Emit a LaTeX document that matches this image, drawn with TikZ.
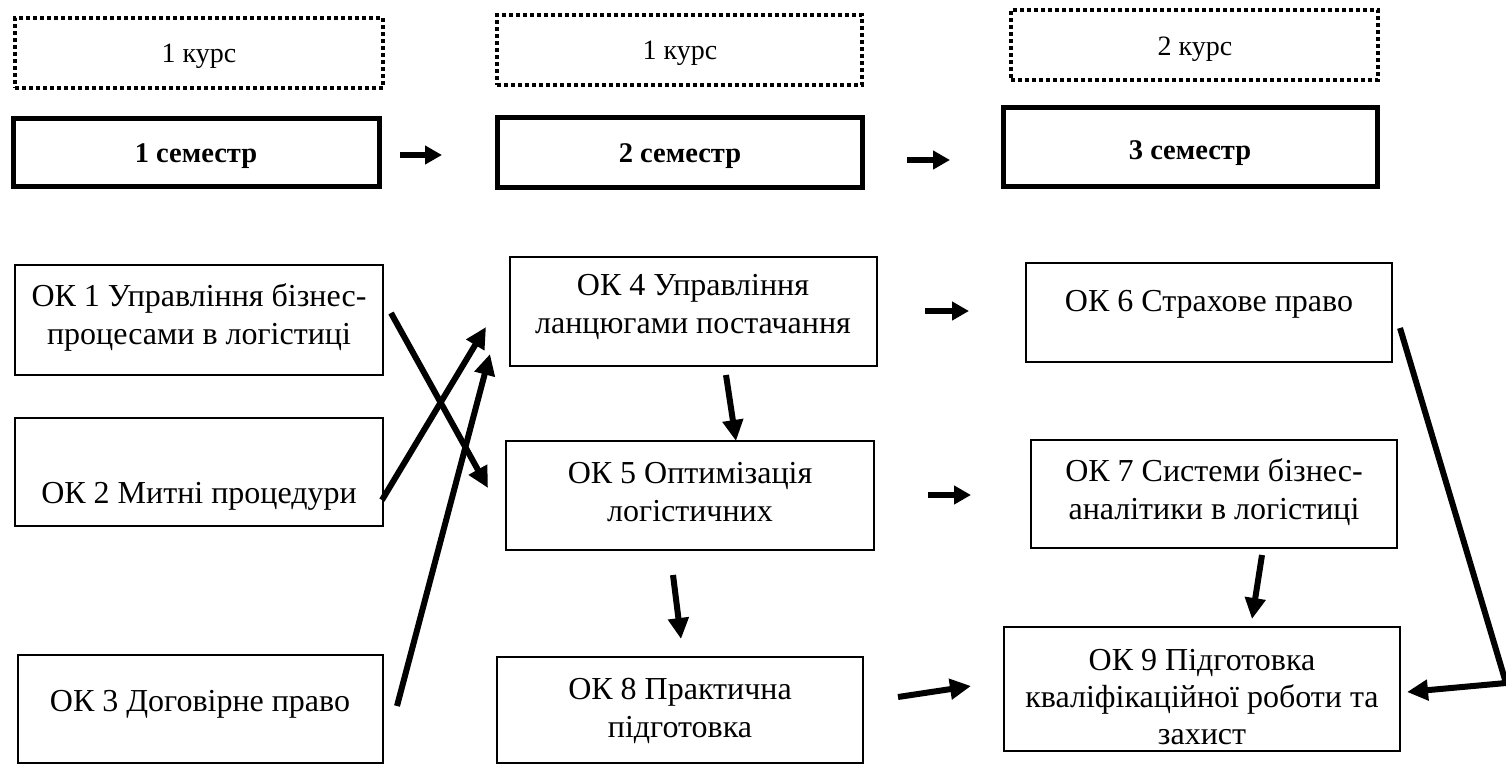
\documentclass[tikz,border=0pt]{standalone}
\usepackage{fontspec}
\setmainfont{Liberation Serif}
\usetikzlibrary{arrows.meta}
\begin{document}
\begin{tikzpicture}[x=1pt,y=-1pt,
  txt/.style={font=\fontsize{32}{38}\selectfont, align=center, inner sep=0pt},
  ktxt/.style={font=\fontsize{28}{38}\selectfont, inner sep=0pt},
  stxt/.style={font=\fontsize{28.5}{38}\selectfont\bfseries, inner sep=0pt},
  thinbox/.style={draw, line width=2pt, inner sep=0pt},
  thickbox/.style={draw, line width=5pt, inner sep=0pt},
  dotbox/.style={draw, line width=3.5pt, dash pattern=on 4pt off 3pt},
  arr/.style={line width=6pt, -{Triangle[length=21pt,width=20pt]}},
  sarr/.style={line width=6pt, -{Triangle[length=17pt,width=18pt]}}]
\useasboundingbox (0,0) rectangle (1506,763);
% course boxes
\node[dotbox, minimum width=368pt, minimum height=70pt] (d1) at (199,53) {};
\node[dotbox, minimum width=365pt, minimum height=70pt] (d2) at (679.5,50) {};
\node[dotbox, minimum width=367pt, minimum height=70pt] (d3) at (1194.5,45) {};
\node[ktxt] at (199,56) {1 курс};
\node[ktxt] at (680,53) {1 курс};
\node[ktxt] at (1195,49) {2 курс};
% semester boxes
\node[thickbox, minimum width=366pt, minimum height=68pt] (s1) at (196,152) {};
\node[thickbox, minimum width=365pt, minimum height=70pt] (s2) at (680,152) {};
\node[thickbox, minimum width=374pt, minimum height=79pt] (s3) at (1190,147) {};
\node[stxt] at (196,156) {1 семестр};
\node[stxt] at (680,156) {2 семестр};
\node[stxt] at (1190,153) {3 семестр};
% course units
\node[thinbox, minimum width=368pt, minimum height=110pt] (ok1) at (199,320) {};
\node[thinbox, minimum width=367pt, minimum height=109pt] (ok4) at (693.5,311.5) {};
\node[thinbox, minimum width=366pt, minimum height=99pt] (ok6) at (1209,312.5) {};
\node[thinbox, minimum width=368pt, minimum height=108pt] (ok2) at (199,472) {};
\node[thinbox, minimum width=368pt, minimum height=109pt] (ok5) at (690,495.5) {};
\node[thinbox, minimum width=366pt, minimum height=108pt] (ok7) at (1214,494) {};
\node[thinbox, minimum width=365pt, minimum height=108pt] (ok3) at (200.5,709) {};
\node[thinbox, minimum width=366pt, minimum height=106pt] (ok8) at (680,710) {};
\node[thinbox, minimum width=396pt, minimum height=124pt] (ok9) at (1202,689) {};
\node[txt] at (199,317) {ОК 1 Управління бізнес-\\процесами в логістиці};
\node[txt] at (693,307) {ОК 4 Управління\\ланцюгами постачання};
\node[txt] at (1209,304) {ОК 6 Страхове право};
\node[txt] at (199,496) {ОК 2 Митні процедури};
\node[txt] at (690,492) {ОК 5 Оптимізація\\логістичних};
\node[txt] at (1214,492) {ОК 7 Системи бізнес-\\аналітики в логістиці};
\node[txt] at (200,704) {ОК 3 Договірне право};
\node[txt] at (680,711) {ОК 8 Практична\\підготовка};
\node[txt, font=\fontsize{32}{37}\selectfont] at (1202,697) {ОК 9 Підготовка\\кваліфікаційної роботи та\\захист};
% arrow end points
\coordinate (a1s) at (400,155); \coordinate (a1e) at (442,155);
\coordinate (a2s) at (907,160); \coordinate (a2e) at (950,160);
\coordinate (b1s) at (391,313); \coordinate (b1e) at (488,488);
\coordinate (b2s) at (382,500); \coordinate (b2e) at (486,327);
\coordinate (b3s) at (397,706); \coordinate (b3e) at (490,354);
\coordinate (c1s) at (726,375); \coordinate (c1e) at (736,441);
\coordinate (c2s) at (925,311); \coordinate (c2e) at (969,311);
\coordinate (c3s) at (928,495); \coordinate (c3e) at (971,495);
\coordinate (c4s) at (673,575); \coordinate (c4e) at (681,639);
\coordinate (c5s) at (898,697); \coordinate (c5e) at (971,686);
\coordinate (d1s) at (1262,555); \coordinate (d1e) at (1252,619);
\coordinate (d2s) at (1400,328); \coordinate (d2c) at (1506,683); \coordinate (d2e) at (1407,692);
\draw[sarr] (a1s) -- (a1e);
\draw[sarr] (a2s) -- (a2e);
\draw[arr] (b1s) -- (b1e);
\draw[arr] (b2s) -- (b2e);
\draw[arr] (b3s) -- (b3e);
\draw[arr] (c1s) -- (c1e);
\draw[sarr] (c2s) -- (c2e);
\draw[sarr] (c3s) -- (c3e);
\draw[arr] (c4s) -- (c4e);
\draw[arr] (c5s) -- (c5e);
\draw[arr] (d1s) -- (d1e);
\draw[arr, line join=miter] (d2s) -- (d2c) -- (d2e);
\end{tikzpicture}
\end{document}
